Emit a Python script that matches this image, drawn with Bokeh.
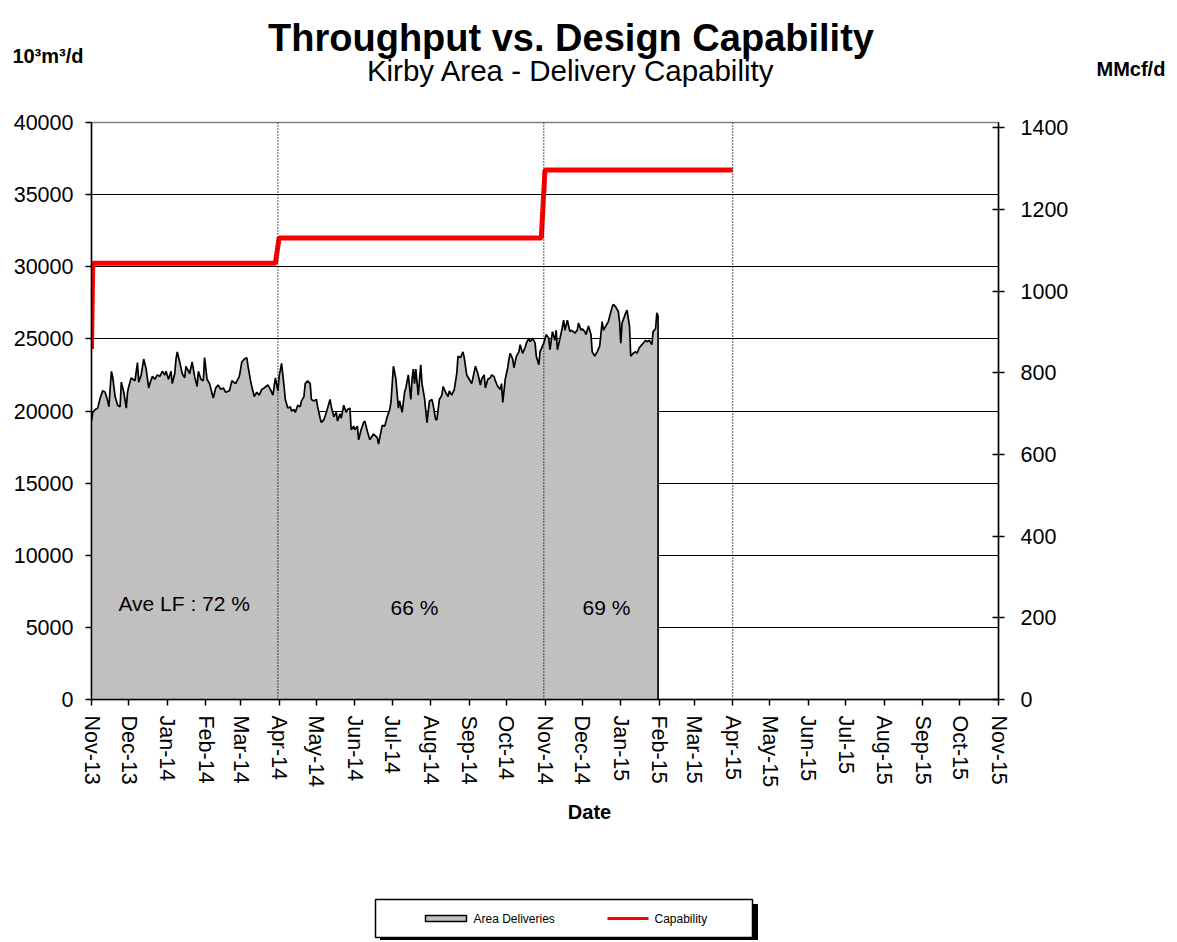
import math
from datetime import datetime, timedelta
from bokeh.plotting import figure
from bokeh.models import (Range1d, LinearAxis, DatetimeTickFormatter, MonthsTicker,
                          FixedTicker, Span, Label, NumeralTickFormatter)
from bokeh.layouts import column
from bokeh.embed import file_html
from bokeh.resources import INLINE
from bokeh.core.properties import value

START = datetime(2013, 11, 1)
END = datetime(2015, 11, 1)
M3_PER_MMCF = 28.3168

# Area deliveries (10^3 m3/d); day offsets from 1 Nov 2013
delivery_day = [0, 1, 3, 5, 7, 9, 11, 13, 14, 16, 17, 19, 21, 23, 24, 26, 28, 29, 30, 32, 35, 37, 38, 40,
                42, 44, 46, 47, 49, 51, 53, 55, 57, 59, 60, 62, 64, 65, 67, 68, 69, 71, 73, 75, 76, 79,
                81, 83, 85, 86, 88, 90, 91, 93, 95, 98, 100, 102, 104, 106, 108, 111, 113, 116, 119,
                121, 123, 125, 126, 128, 129, 131, 133, 135, 137, 139, 142, 144, 146, 148, 150, 151,
                153, 155, 156, 158, 160, 161, 163, 164, 166, 168, 169, 171, 172, 174, 176, 177, 179,
                181, 182, 184, 185, 187, 189, 190, 192, 193, 195, 197, 198, 200, 201, 203, 205, 206,
                208, 209, 211, 212, 214, 215, 217, 219, 220, 222, 224, 225, 227, 230, 231, 234, 236,
                238, 240, 241, 243, 245, 247, 248, 250, 252, 253, 255, 257, 258, 259, 260, 261, 263,
                265, 266, 268, 270, 272, 274, 275, 277, 278, 280, 282, 283, 285, 287, 288, 290, 292,
                294, 295, 297, 299, 300, 302, 304, 306, 307, 309, 311, 313, 314, 316, 317, 319, 321,
                322, 324, 325, 327, 329, 330, 331, 333, 335, 336, 337, 339, 340, 342, 344, 345, 347,
                349, 350, 352, 353, 355, 357, 358, 360, 361, 364, 366, 368, 369, 371, 373, 374, 375,
                378, 380, 381, 383, 385, 386, 388, 389, 391, 392, 394, 395, 397, 398, 400, 402, 403,
                405, 407, 409, 411, 412, 414, 416, 417, 419, 420, 422, 424, 425, 426, 427, 430, 431,
                433, 434, 436, 438, 439, 441, 442, 444, 446, 447, 449, 451, 452, 454, 455, 456]
delivery_value = [19300, 19900, 20100, 20200, 20900, 21400, 21300, 20700, 20300, 22750, 22400, 21000,
                  20400, 20300, 22000, 21300, 20200, 21300, 21700, 22300, 22100, 23350, 22000, 22500,
                  23600, 22900, 21600, 21900, 22400, 22200, 22500, 22400, 22750, 22500, 22750, 22200,
                  22750, 21900, 22600, 23600, 24100, 23400, 22600, 22300, 23100, 22600, 23400, 22400,
                  21700, 22750, 22200, 22100, 23700, 22200, 21900, 20900, 21600, 21800, 21500, 21600,
                  21300, 21400, 22100, 21900, 22400, 23400, 23600, 23700, 23100, 22100, 21700, 21000,
                  21300, 21100, 21500, 21600, 21800, 21500, 21100, 22300, 21400, 22400, 23300, 21700,
                  20800, 20200, 20300, 20000, 20100, 19900, 20400, 20300, 20700, 21000, 21900, 22100,
                  21900, 20800, 20700, 20800, 20300, 19500, 19200, 19400, 19900, 20200, 20800, 20300,
                  19600, 19900, 19300, 19800, 19500, 20400, 19900, 20100, 20200, 18700, 18950, 18700,
                  18950, 18000, 18700, 19200, 19300, 18600, 18000, 18150, 18400, 18150, 17700, 19000,
                  18950, 19600, 20100, 20600, 23100, 22200, 20200, 20700, 19900, 21300, 21600, 22500,
                  20800, 22200, 22900, 21900, 22900, 21100, 23200, 21900, 20900, 19200, 20700, 20800,
                  20400, 19400, 19400, 20800, 21100, 21700, 21300, 21000, 21400, 21100, 21500, 22600,
                  23800, 23700, 24100, 23700, 22500, 22200, 21900, 22300, 23100, 22600, 21800, 22200,
                  22500, 21600, 22200, 22300, 22500, 22400, 22100, 21700, 21500, 21900, 20600, 22200,
                  23000, 23600, 24000, 23600, 23000, 23800, 24100, 24600, 24000, 24400, 24700, 25050,
                  24800, 25050, 24700, 23800, 23200, 24100, 24700, 25300, 25050, 24250, 25500, 24900,
                  25600, 24250, 25400, 26300, 25600, 26300, 25500, 25600, 25500, 25400, 25600, 26100,
                  25600, 25700, 25500, 25300, 25900, 25300, 24100, 23800, 24100, 24500, 26200, 25600,
                  25900, 26200, 26550, 27200, 27400, 27200, 26900, 26200, 24700, 26100, 26800, 27000,
                  25900, 23800, 24000, 24100, 24000, 24400, 24500, 24700, 24900, 24800, 24900, 24600,
                  25500, 25700, 26800, 26600]

# Design capability (10^3 m3/d)
cap_dates = ["2013-11-01", "2013-11-02", "2014-03-29", "2014-04-01", "2014-10-29", "2014-11-01", "2015-04-01"]
cap_values = [24300, 30250, 30250, 32000, 32000, 36700, 36700]

# Periods marked with dotted lines and their average load factors
period_marks = ["2014-03-31", "2014-10-31", "2015-04-01"]
lf_texts = ["Ave LF : 72 %", "66 %", "69 %"]
lf_days = [21.7, 240.7, 395.2]
lf_y = [6650, 6380, 6380]

month_labels_fmt = "%b-%y"

FONT = "Liberation Sans"
W = 1170
FRAME_L, FRAME_R = 91, 998


def ms(dt):
    return (dt - datetime(1970, 1, 1)).total_seconds() * 1000.0


def day_ms(d):
    return ms(START + timedelta(days=d))


del_x = [START + timedelta(days=d) for d in delivery_day]
cap_x = [datetime.strptime(s, "%Y-%m-%d") for s in cap_dates]


def blank_axis(label, standoff, size):
    ax = LinearAxis(ticker=FixedTicker(ticks=[]), axis_label=label,
                    axis_label_orientation="horizontal", axis_label_standoff=standoff,
                    axis_label_text_font=FONT, axis_label_text_font_size=size,
                    axis_label_text_font_style="bold", axis_label_text_color="black",
                    axis_line_color=None, major_tick_line_color=None, minor_tick_line_color=None,
                    major_tick_out=0, major_tick_in=0, major_label_standoff=0,
                    major_label_text_font_size="0px")
    return ax


# ---------------- header (titles and unit labels) ----------------
HEAD_H = 110
head = figure(width=W, height=HEAD_H, x_range=Range1d(FRAME_L, FRAME_R), y_range=Range1d(HEAD_H, 0),
              toolbar_location=None, output_backend="svg", x_axis_location=None,
              y_axis_location=None, min_border=0)
head.grid.visible = False
head.outline_line_color = None
head.text(x=[570.5], y=[37], text=["Throughput vs. Design Capability"], text_font=value(FONT),
          text_font_size="38px", text_font_style="bold", text_align="center",
          text_baseline="alphabetic", text_color="black")
head.text(x=[570.5], y=[70], text=["Kirby Area - Delivery Capability"], text_font=value(FONT),
          text_font_size="29.5px", text_align="center", text_baseline="alphabetic", text_color="black")
head.add_layout(blank_axis("10³m³/d", 8, "20px"), "left")
head.add_layout(blank_axis("\nMMcf/d", 98, "20px"), "right")

# ---------------- main chart ----------------
MAIN_TOP = HEAD_H
MAIN_H = 680
p = figure(width=W, height=MAIN_H, x_axis_type="datetime",
           x_range=Range1d(START, END), y_range=Range1d(0, 40000),
           toolbar_location=None, output_backend="svg",
           min_border_left=FRAME_L, min_border_right=W - FRAME_R, min_border_top=122 - MAIN_TOP,
           min_border_bottom=MAIN_TOP + MAIN_H - 701)
p.background_fill_color = "white"
p.border_fill_color = "white"
p.outline_line_color = "#808080"
p.outline_line_width = 1.5

p.xgrid.visible = False
p.ygrid.ticker = FixedTicker(ticks=list(range(5000, 40000, 5000)))
p.ygrid.grid_line_color = "black"
p.ygrid.grid_line_width = 1.2

p.yaxis.ticker = FixedTicker(ticks=list(range(0, 40001, 5000)))
p.yaxis.formatter = NumeralTickFormatter(format="0")
for ax in [p.yaxis[0], p.xaxis[0]]:
    ax.axis_line_color = "black"
    ax.axis_line_width = 1.5
    ax.major_tick_line_color = "black"
    ax.major_tick_line_width = 1.5
    ax.major_tick_in = 0
    ax.major_tick_out = 6
    ax.minor_tick_line_color = None
    ax.major_label_text_font = FONT
    ax.major_label_text_font_size = "21.5px"
    ax.major_label_text_color = "black"
p.yaxis.major_label_standoff = 12

p.xaxis.ticker = MonthsTicker(months=list(range(12)))
p.xaxis.formatter = DatetimeTickFormatter(months=month_labels_fmt, years=month_labels_fmt,
                                          days=month_labels_fmt)
p.xaxis.major_label_orientation = -math.pi / 2
p.xaxis.major_label_standoff = 10

p.extra_y_ranges = {"mmcf": Range1d(0, 40000 / M3_PER_MMCF)}
rax = LinearAxis(y_range_name="mmcf", ticker=FixedTicker(ticks=list(range(0, 1401, 200))))
rax.axis_line_color = "black"
rax.axis_line_width = 1.5
rax.major_tick_line_color = "black"
rax.major_tick_line_width = 1.5
rax.major_tick_in = 6
rax.major_tick_out = 6
rax.minor_tick_line_color = None
rax.major_label_text_font = FONT
rax.major_label_text_font_size = "21.5px"
rax.major_label_text_color = "black"
rax.major_label_standoff = 16
p.add_layout(rax, "right")

p.varea(x=del_x, y1=[0] * len(del_x), y2=delivery_value, fill_color="#C0C0C0")
p.line(x=del_x + [del_x[-1]], y=delivery_value + [0], line_color="black", line_width=1.7)

for d in period_marks:
    p.add_layout(Span(location=ms(datetime.strptime(d, "%Y-%m-%d")), dimension="height",
                      line_color="black", line_width=1.3, line_dash="1 2"))

p.line(x=cap_x, y=cap_values, line_color="#FF0000", line_width=5)

for t, d, yv in zip(lf_texts, lf_days, lf_y):
    p.add_layout(Label(x=day_ms(d), y=yv, text=t, text_font=FONT, text_font_size="21px",
                       text_baseline="alphabetic", text_align="left", text_color="black"))

# ---------------- footer (axis title and legend) ----------------
FOOT_TOP = MAIN_TOP + MAIN_H
FOOT_H = 150
foot = figure(width=W, height=FOOT_H, x_range=Range1d(FRAME_L, FRAME_R), y_range=Range1d(FOOT_H, 0),
              toolbar_location=None, output_backend="svg", x_axis_location=None,
              y_axis_location=None, min_border=0)
foot.grid.visible = False
foot.outline_line_color = None
foot.text(x=[589], y=[811 - FOOT_TOP], text=["Date"], text_font=value(FONT), text_font_size="20px",
          text_font_style="bold", text_align="center", text_baseline="alphabetic", text_color="black")
lt = 899 - FOOT_TOP
foot.quad(left=[380], right=[757], top=[lt + 5], bottom=[lt + 43], fill_color="black", line_color="black")
foot.quad(left=[375], right=[752], top=[lt], bottom=[lt + 38], fill_color="white", line_color="black",
          line_width=1.5)
foot.quad(left=[425], right=[466], top=[lt + 16], bottom=[lt + 22], fill_color="#C0C0C0",
          line_color="black", line_width=1.5)
foot.line(x=[607, 648], y=[lt + 19, lt + 19], line_color="#FF0000", line_width=3)
foot.text(x=[473, 654], y=[lt + 19, lt + 19], text=["Area Deliveries", "Capability"],
          text_font=value(FONT), text_font_size="12px", text_baseline="middle", text_align="left",
          text_color="black")

layout = column(head, p, foot, spacing=0)
open("out.html", "w").write(file_html(layout, INLINE))
